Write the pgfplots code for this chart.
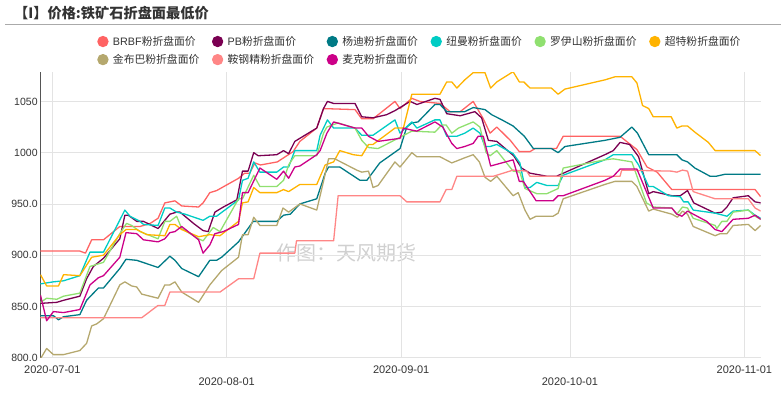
\documentclass[border=0pt]{standalone}
\usepackage{fontspec}
\setmainfont{Liberation Sans}
\newfontfamily\cjk{Noto Sans CJK SC}
\usepackage{pgfplots}
\pgfplotsset{compat=1.18}
\definecolor{cBRBF}{HTML}{FF6363}
\definecolor{cPB}{HTML}{7A0052}
\definecolor{cYD}{HTML}{007A85}
\definecolor{cNM}{HTML}{00CCC4}
\definecolor{cLYS}{HTML}{90E070}
\definecolor{cCT}{HTML}{FFB300}
\definecolor{cJBB}{HTML}{B5A86E}
\definecolor{cAG}{HTML}{FF8686}
\definecolor{cMK}{HTML}{CC0088}
\definecolor{txtgray}{HTML}{333333}
\definecolor{gridgray}{HTML}{E3E3E3}
\definecolor{axgray}{HTML}{555555}
\definecolor{hrgray}{HTML}{AAAAAA}
\definecolor{wmgray}{HTML}{D0D0D0}
\begin{document}
\begin{tikzpicture}[x=1pt,y=1pt]
\node[anchor=west, inner sep=0pt, text=txtgray, font=\cjk\bfseries\fontsize{14.2}{16}\selectfont] at (14,384.7) {【I】价格:铁矿石折盘面最低价};
\draw[color=hrgray, line width=1pt] (5,373) -- (781,373);
\node[text=wmgray, font=\cjk\fontsize{20}{22}\selectfont, inner sep=0pt] at (346.5,144.7) {作图：天风期货};
\begin{axis}[
  at={(40.3pt,40.3pt)}, anchor=south west,
  scale only axis, width=720.4pt, height=285.4pt,
  xmin=-2.13, xmax=125.9, ymin=800, ymax=1078.4,
  axis x line*=bottom, axis y line*=left,
  x axis line style={-, draw=gridgray, line width=0.8pt},
  y axis line style={-, draw=axgray, line width=1pt},
  grid=major, major grid style={draw=gridgray, line width=0.8pt},
  major tick length=0pt,
  ytick={800,850,900,950,1000,1050},
  yticklabels={800.0,850.0,900.0,950.0,1000,1050},
  xtick={0,62,123},
  xticklabels={2020-07-01,2020-09-01,2020-11-01},
  extra x ticks={31,92},
  extra x tick labels={2020-08-01,2020-10-01},
  extra x tick style={grid=major, xticklabel style={yshift=-12pt}},
  yticklabel style={font=\fontsize{10.5}{12}\selectfont, text=txtgray, anchor=east, inner sep=0pt, xshift=-2.5pt},
  xticklabel style={font=\fontsize{11}{12}\selectfont, text=txtgray, anchor=north, inner sep=0pt, yshift=-8pt},
  every axis plot/.append style={line width=1.3pt, line join=round, mark=none},
  legend columns=6,
  legend image code/.code={\fill[#1] (5pt,0pt) circle (5pt);},
  legend style={at={(0.0791,1.1335)}, anchor=north west, draw=none, fill=none,
    inner sep=0pt, outer sep=0pt, row sep=3.4pt, cells={anchor=west, inner sep=0pt},
    font=\fontsize{10.8}{12}\selectfont, text=txtgray,
    /tikz/every odd column/.append style={column sep=2.4pt},
    /tikz/every even column/.append style={column sep=10.6pt}},
]
\addplot[color=cBRBF] coordinates {(-2.1,904) (4.9,904) (5.9,902) (7,915) (9.1,915) (12,928) (15.6,928) (17.4,931) (18.8,936) (20,951) (21.8,953) (23,948) (26,947) (26.8,951) (28,961) (29.2,963) (33.1,975) (34.2,980) (35.1,980) (36,990) (37,988) (40,991) (42.8,1001) (44,1011) (47,1024) (48.2,1043) (53.8,1042) (55,1033) (57,1033) (60.9,1050) (61.8,1043) (63.9,1053) (65.3,1050) (68.9,1048) (70.7,1040) (72.5,1040) (74.8,1050) (76.6,1033) (77.8,1019) (79,1025) (81.4,1012) (83,1001) (84.9,1001) (85.8,1004) (89.6,1004) (90.8,1016) (100.9,1016) (103.9,1003) (105.7,986) (107.5,981) (110.1,964) (124.9,964) (125.9,957)};
\addlegendentry{BRBF{\cjk 粉折盘面价}}
\addplot[color=cPB] coordinates {(-2.1,853) (0.8,854) (2,856) (4.9,860) (6.1,877) (7.3,889) (9.1,897) (12,916) (12.9,939) (13.5,939) (15,933) (16.2,933) (18.8,926) (20.9,940) (22.1,942) (22.7,942) (25.1,931) (26.8,924) (27.7,923) (28.9,942) (30.4,947) (32.8,954) (33.8,982) (34.8,982) (35.8,1000) (36.6,997) (39.9,998) (41.1,1002) (42,999) (43.1,1011) (44.6,1016) (47,1024) (48.2,1043) (48.9,1050) (50,1048) (53.8,1048) (55,1035) (57,1034) (59.4,1037) (60.9,1041) (63.6,1050) (64.8,1047) (68,1053) (68.9,1052) (70.1,1038) (72.5,1036) (75.1,1040) (76.3,1034) (77.5,1012) (79,1011) (82,997) (83.4,985) (84.9,980) (87.9,977) (89.6,977) (98.2,998) (99.7,1002) (100.9,1010) (102.6,1008) (104.2,996) (106,960) (106.8,962) (110.1,958) (111.6,958) (112.9,963) (114,951) (117.8,941) (119,942) (119.9,947) (121,956) (123.7,958) (124.9,952) (125.9,951)};
\addlegendentry{PB{\cjk 粉折盘面价}}
\addplot[color=cYD] coordinates {(-2.1,841) (0.2,841) (1.1,837) (2,840) (4.9,842) (6.1,856) (8.2,868) (9.1,868) (12,887) (13.1,896) (15,895) (18.8,888) (20.9,899) (21.8,895) (23,887) (26,879) (28,895) (29.2,895) (30.1,898) (33.1,913) (35.7,933) (39.9,933) (41.1,939) (42.3,940) (44,950) (47,955) (48.5,980) (49.1,986) (51.1,986) (54.7,973) (55.9,973) (58.2,990) (61.8,1004) (63,1025) (63.9,1029) (65,1030) (68,1047) (68.9,1047) (70.1,1040) (73.3,1040) (74.8,1044) (76.9,1042) (78.1,1037) (79.9,1032) (81.9,1026) (83.9,1016) (85.5,1004) (88.7,1004) (89.9,1000) (91.1,1006) (98.2,1012) (100.9,1015) (103,1025) (104,1019) (106,998) (111,998) (111.9,993) (112.9,991) (114.2,985) (116.9,977) (118,977) (119.6,979) (125.9,979)};
\addlegendentry{\cjk 杨迪粉折盘面价}
\addplot[color=cNM] coordinates {(-2.1,872) (0.2,874) (2,875) (4.9,880) (6.7,903) (9.1,903) (12.9,944) (13.8,938) (15.6,933) (16.2,930) (18.8,929) (20,946) (20.9,946) (22.1,942) (23.6,940) (26.8,934) (28,938) (29.2,938) (33.1,954) (33.8,973) (34.8,975) (35.8,991) (36.9,981) (39.9,981) (41.1,986) (42,986) (43.1,1002) (47,1002) (47.6,1017) (48.9,1032) (50,1024) (53.8,1024) (55,1017) (57,1017) (60.9,1032) (61.8,1019) (63.9,1030) (64.8,1024) (68,1032) (68.9,1032) (70.1,1016) (71.9,1016) (73.3,1019) (74.8,1024) (76,1019) (76.9,1006) (77.8,1006) (79,1008) (81.9,999) (83.1,990) (84,966) (84.9,966) (86.1,971) (87.9,968) (89.9,968) (90.8,978) (98.2,993) (99.7,998) (103,998) (104.2,988) (106,967) (106.8,967) (109.5,958) (111.6,957) (112.2,952) (113,952) (113.9,944) (117.8,941) (119.9,938) (121,943) (123.7,944) (124.9,939) (125.9,936)};
\addlegendentry{\cjk 纽曼粉折盘面价}
\addplot[color=cLYS] coordinates {(-2.1,854) (-1,858) (0.8,857) (2,860) (4.9,863) (6.7,889) (9.1,893) (12,921) (13.2,931) (14.1,929) (15.6,923) (18.8,916) (20,933) (20.9,933) (22.1,938) (23,926) (26,916) (26.8,914) (28.6,927) (29.8,923) (33.1,955) (33.8,955) (35.8,978) (36.9,967) (39.9,967) (41.1,973) (42,988) (43.1,997) (47,997) (48.2,1019) (48.8,1025) (50.8,1029) (53.8,1024) (55,1012) (56.2,1005) (57.9,1004) (61.8,1015) (63.9,1021) (68,1020) (69.2,1027) (70,1027) (71,1019) (72.2,1024) (74.8,1030) (76,1025) (77.1,1000) (77.8,997) (79,1002) (81.9,982) (83.1,981) (84,965) (86.1,960) (87.9,960) (89.9,965) (90.8,985) (98.2,993) (99.7,994) (103,991) (105.6,951) (106.8,947) (110.1,946) (111,940) (112,947) (112.9,946) (113.9,936) (117.8,929) (118.1,926) (119,933) (119.9,933) (121,942) (123.7,944) (124.9,938) (125.9,935)};
\addlegendentry{\cjk 罗伊山粉折盘面价}
\addplot[color=cCT] coordinates {(-2.1,881) (-1,870) (1.1,870) (2,881) (4.9,880) (7,898) (9.1,900) (12,920) (13.1,925) (15,925) (16.8,920) (20,919) (20.9,930) (21.8,930) (23,925) (26,918) (28,920) (29.8,919) (33.1,933) (33.8,951) (34.8,952) (35.8,966) (36.9,961) (39.9,961) (41.1,964) (42,962) (44,969) (47,969) (48.5,988) (50,991) (51.1,1002) (53.5,998) (55,997) (56.2,1008) (57,1008) (60.9,1024) (62.4,1024) (63.9,1057) (68.9,1057) (70.1,1069) (71,1069) (71.9,1063) (73.3,1071) (74.8,1078) (76.9,1078) (77.9,1063) (79,1069) (81.9,1079) (83,1069) (83.8,1069) (84.9,1063) (88.7,1063) (89.9,1057) (91.1,1062) (98.2,1071) (100,1074) (103,1074) (103.9,1068) (104.9,1046) (106,1043) (106.8,1035) (110,1035) (111,1024) (111.9,1026) (112.9,1026) (114.2,1020) (116.6,1010) (117.8,1002) (124.9,1002) (125.9,997)};
\addlegendentry{\cjk 超特粉折盘面价}
\addplot[color=cJBB] coordinates {(-2.1,799) (-1,809) (0.2,803) (2,803) (4.9,807) (6.1,814) (7,831) (7.9,833) (9.1,838) (12,871) (12.9,874) (14.1,870) (15,869) (15.9,862) (18.8,858) (20,871) (20.9,871) (21.8,874) (23,864) (26,854) (28,871) (30.1,885) (33.1,898) (33.8,920) (34.8,920) (35.8,937) (36.9,929) (39.9,929) (41,946) (42,942) (44,950) (47,944) (48.2,972) (49.1,994) (50.2,994) (54.1,983) (55,981) (56.2,982) (57,966) (57.9,968) (60.9,991) (61.8,986) (63.9,1000) (64.8,996) (68.9,996) (71,990) (73.3,995) (74.8,998) (75.9,991) (76.9,976) (77.9,972) (79,977) (81.9,958) (82.8,961) (84,944) (84.9,935) (86,938) (89,938) (89.9,941) (90.8,955) (98.2,969) (100,972) (103,972) (103.9,967) (106,943) (106.8,945) (110.1,940) (111.1,937) (112,943) (112.9,940) (113.9,928) (117.8,919) (118.7,921) (119.9,921) (121,929) (123.7,930) (124.9,924) (125.9,929)};
\addlegendentry{\cjk 金布巴粉折盘面价}
\addplot[color=cAG] coordinates {(-2.1,839) (15.9,839) (18.8,851) (20,851) (20.9,864) (29.8,864) (33.1,877) (35.8,877) (36.9,902) (43.1,902) (43.4,914) (50,914) (50.8,958) (61.8,958) (63,952) (68.9,952) (70,964) (71,964) (71.9,977) (78.4,977) (81.9,983) (84.3,982) (84.9,977) (100.9,977) (101.2,983) (110,982) (111,981) (112,983) (112.9,982) (113.9,962) (117.8,955) (123.7,955) (124.9,946) (125.9,943)};
\addlegendentry{\cjk 鞍钢精粉折盘面价}
\addplot[color=cMK] coordinates {(-2.1,861) (-1,836) (0.2,845) (2,844) (4.9,847) (6.7,871) (8.2,878) (9.1,880) (12,898) (13.1,922) (15,921) (16.2,915) (18.8,913) (20,916) (20.9,922) (21.8,923) (23,928) (26,915) (26.8,902) (28,910) (28.9,921) (30.4,923) (33.1,930) (33.8,961) (34.8,961) (36.9,985) (39.9,974) (41.1,982) (42,975) (43.1,986) (44,987) (47,998) (47.6,1002) (48.8,1019) (50,1030) (53.8,1024) (55,1024) (56.2,1016) (57.9,1011) (61.8,1014) (62.4,1024) (63.9,1022) (64.8,1021) (68,1030) (69.4,1025) (71,1009) (71.9,1004) (73.3,1006) (74.8,1009) (75.7,1016) (76.6,1016) (77.9,987) (81.9,993) (83,972) (83.7,972) (86,953) (89,953) (89.9,958) (90.8,958) (98.2,973) (99.7,977) (100.9,984) (103.9,984) (106.8,946) (110.1,946) (111,940) (111.9,938) (112.9,943) (116.3,933) (117.8,925) (119,923) (121,935) (123.7,936) (124.9,939) (125.9,935)};
\addlegendentry{\cjk 麦克粉折盘面价}
\end{axis}
\pgfresetboundingbox
\path[use as bounding box] (0,0) rectangle (781,398);
\end{tikzpicture}
\end{document}
